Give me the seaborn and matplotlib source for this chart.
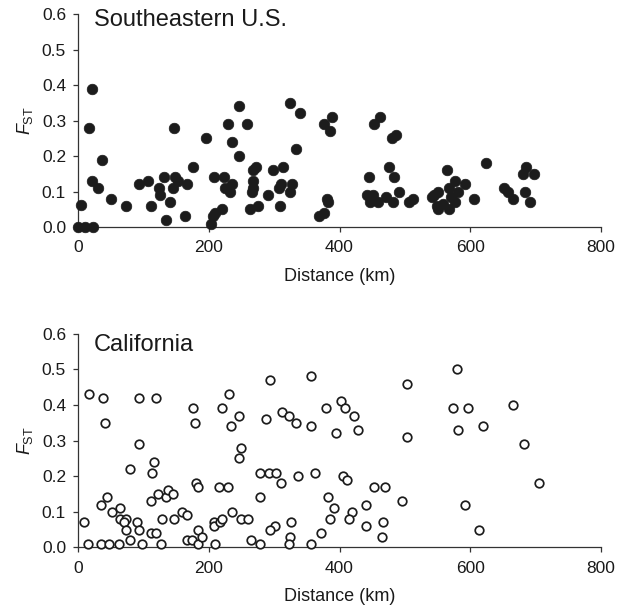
import numpy as np
import pandas as pd
import matplotlib
matplotlib.use("Agg")
import matplotlib.pyplot as plt
import seaborn as sns

# Southeastern U.S. (distance km, Fst)
se_dist = [4, 0, 11, 23, 21, 17, 21, 30, 36, 51, 73, 93, 107, 111, 124, 125, 131, 134, 140, 147,
           146, 148, 153, 163, 167, 176, 196, 204, 207, 209, 220, 208, 223, 225, 229, 236, 233, 236,
           247, 246, 258, 263, 268, 273, 268, 267, 266, 275,
           298, 313, 290, 308, 311, 324, 327, 309, 325, 339, 333, 368, 377, 381, 382, 377, 389, 386,
           445, 442, 451, 446, 459, 453, 462, 480, 487, 476, 484, 471, 482, 491, 507, 513, 545, 549,
           564, 542, 550, 550, 568, 558, 567, 576, 570, 582, 592, 576, 606, 624, 652, 657, 666,
           686, 681, 698, 684, 692]
se_fst = [0.062, 0.0, 0.0, 0.0, 0.39, 0.28, 0.13, 0.11, 0.19, 0.08, 0.06, 0.12, 0.13, 0.06, 0.11, 0.09, 0.14, 0.02, 0.07, 0.28,
          0.11, 0.14, 0.13, 0.03, 0.12, 0.17, 0.25, 0.01, 0.03, 0.04, 0.05, 0.14, 0.14, 0.11, 0.29, 0.24, 0.10, 0.12,
          0.34, 0.20, 0.29, 0.05, 0.16, 0.17, 0.13, 0.11, 0.10, 0.06,
          0.16, 0.17, 0.09, 0.11, 0.12, 0.10, 0.12, 0.06, 0.35, 0.32, 0.22, 0.03, 0.04, 0.08, 0.07, 0.29, 0.31, 0.27,
          0.14, 0.09, 0.09, 0.07, 0.07, 0.29, 0.31, 0.25, 0.26, 0.17, 0.14, 0.085, 0.07, 0.10, 0.07, 0.08, 0.09, 0.06,
          0.16, 0.085, 0.10, 0.05, 0.05, 0.065, 0.11, 0.13, 0.085, 0.10, 0.12, 0.07, 0.08, 0.18, 0.11, 0.10, 0.08,
          0.17, 0.15, 0.15, 0.10, 0.07]

# California
ca_dist = [9, 17, 16, 39, 42, 35, 48, 63, 35, 45, 52, 64, 64, 74, 70, 73, 79, 79, 90, 94, 93, 94, 98,
           119, 116, 113, 112, 111, 120, 127, 123, 134, 138, 146, 128, 147, 159, 167, 167, 175, 183, 183,
           190, 176, 179, 181, 184, 208, 208, 210, 217, 221, 216, 229, 221, 231, 234, 236, 247, 250, 247,
           249, 260, 265, 278, 278, 278,
           293, 357, 503, 287, 312, 323, 333, 356, 380, 403, 408, 422, 394, 429, 503, 292, 303, 310, 337,
           362, 406, 412, 383, 391, 453, 469, 441, 495, 419, 415, 385, 326, 302, 293, 324, 323, 356, 371,
           440, 467, 465,
           579, 573, 597, 666, 582, 619, 682, 705, 592, 614]
ca_fst = [0.07, 0.43, 0.01, 0.42, 0.35, 0.01, 0.01, 0.01, 0.12, 0.14, 0.10, 0.11, 0.08, 0.08, 0.07, 0.05, 0.02, 0.22, 0.07, 0.05, 0.29, 0.42, 0.01,
          0.42, 0.24, 0.21, 0.13, 0.04, 0.04, 0.01, 0.15, 0.14, 0.16, 0.15, 0.08, 0.08, 0.10, 0.09, 0.02, 0.02, 0.01, 0.05,
          0.03, 0.39, 0.35, 0.18, 0.17, 0.07, 0.06, 0.01, 0.07, 0.08, 0.17, 0.17, 0.39, 0.43, 0.34, 0.10, 0.37, 0.28, 0.25,
          0.08, 0.08, 0.02, 0.01, 0.21, 0.14,
          0.47, 0.48, 0.46, 0.36, 0.38, 0.37, 0.35, 0.34, 0.39, 0.41, 0.39, 0.37, 0.32, 0.33, 0.31, 0.21, 0.21, 0.18, 0.20,
          0.21, 0.20, 0.19, 0.14, 0.11, 0.17, 0.17, 0.12, 0.13, 0.10, 0.08, 0.08, 0.07, 0.06, 0.05, 0.03, 0.01, 0.01, 0.04,
          0.06, 0.07, 0.03,
          0.50, 0.39, 0.39, 0.40, 0.33, 0.34, 0.29, 0.18, 0.12, 0.05]

se = pd.DataFrame({"dist": se_dist, "fst": se_fst})
ca = pd.DataFrame({"dist": ca_dist, "fst": ca_fst})

sns.set_style("ticks")
plt.rcParams["font.family"] = ["Liberation Sans", "DejaVu Sans"]
plt.rcParams["mathtext.fontset"] = "custom"
plt.rcParams["mathtext.rm"] = "Liberation Sans"
plt.rcParams["mathtext.it"] = "Liberation Sans:italic"

fig = plt.figure(figsize=(6.26, 6.12), dpi=100)
ax1 = fig.add_axes([0.1246, 0.629, 0.8355, 0.348])
ax2 = fig.add_axes([0.1246, 0.1057, 0.8355, 0.349])

ink = "#1c1c1c"

sns.scatterplot(data=se, x="dist", y="fst", ax=ax1, color=ink, edgecolor=ink,
                s=58, linewidth=0.5, clip_on=False, zorder=3)
sns.scatterplot(data=ca, x="dist", y="fst", ax=ax2, facecolor="white", edgecolor=ink,
                s=38, linewidth=1.25, clip_on=False, zorder=3)

for ax, title, ty in [(ax1, "Southeastern U.S.", 0.944), (ax2, "California", 0.919)]:
    ax.set_xlim(0, 800)
    ax.set_ylim(0, 0.6)
    ax.set_xticks([0, 200, 400, 600, 800])
    ax.set_yticks(np.arange(0, 0.61, 0.1))
    ax.set_yticklabels(["%.1f" % v for v in np.arange(0, 0.61, 0.1)])
    sns.despine(ax=ax)
    for sp in ["left", "bottom"]:
        ax.spines[sp].set_color("#333333")
        ax.spines[sp].set_linewidth(0.9)
    ax.tick_params(direction="out", length=3.6, width=0.9, color="#333333",
                   labelsize=12.5, labelcolor="#1a1a1a")
    ax.tick_params(axis="x", pad=6)
    ax.tick_params(axis="y", pad=5)
    ax.set_xlabel("Distance (km)", fontsize=13, color="#1a1a1a", labelpad=9)
    ax.set_ylabel(r"$F_{\mathrm{ST}}$", fontsize=13, color="#1a1a1a", labelpad=5)
    ax.text(0.031, ty, title, transform=ax.transAxes, fontsize=17,
            va="baseline", ha="left", color="#1a1a1a")

fig.savefig("out.png", dpi=100)
